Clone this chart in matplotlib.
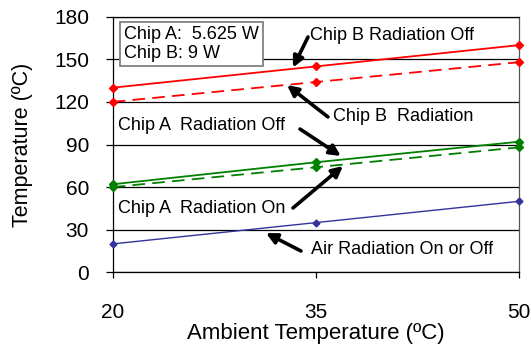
import matplotlib
matplotlib.use("Agg")
import matplotlib.pyplot as plt

plt.rcParams['font.family'] = ['Liberation Sans', 'DejaVu Sans']

# data
ambient = [20, 35, 50]
chip_b_off = [130, 145, 160]
chip_b_on = [120, 134, 148]
chip_a_off = [62, 77.5, 92]
chip_a_on = [60, 74, 88]
air = [20, 35, 50]
y_ticks = [0, 30, 60, 90, 120, 150, 180]

# (label, text pos, arrow tail, arrow head)
notes = [
    ("Chip B Radiation Off", (34.56, 167.0), (34.41, 165.7), (33.30, 144.2)),
    ("Chip B  Radiation", (36.25, 109.4), (35.88, 109.4), (32.86, 131.9)),
    ("Chip A  Radiation Off", (20.39, 103.7), (33.82, 100.9), (36.83, 81.9)),
    ("Chip A  Radiation On", (20.39, 44.6), (33.30, 45.3), (36.99, 74.9)),
    ("Air Radiation On or Off", (34.64, 16.0), (33.89, 15.0), (31.31, 27.7)),
]

fig = plt.figure(figsize=(5.31, 3.45), dpi=100)
ax = fig.add_axes([0.2122, 0.2107, 0.7658, 0.7409])

ax.plot(ambient, chip_b_off, color='#ff0000', lw=1.3, marker='D', ms=4, clip_on=False, zorder=3)
ax.plot(ambient, chip_b_on, color='#ff0000', lw=1.3, ls=(0, (7, 4)), marker='D', ms=4, clip_on=False, zorder=3)
ax.plot(ambient, chip_a_off, color='#008000', lw=1.3, marker='D', ms=4, clip_on=False, zorder=3)
ax.plot(ambient, chip_a_on, color='#008000', lw=1.3, ls=(0, (7, 4)), marker='D', ms=4, clip_on=False, zorder=3)
ax.plot(ambient, air, color='#333399', lw=1.0, marker='D', ms=3.5, clip_on=False, zorder=3)

ax.set_xlim(20, 50)
ax.set_ylim(0, 180)
ax.set_xticks(ambient)
ax.set_yticks(y_ticks)
ax.yaxis.grid(True, color='black', lw=0.9)
ax.set_axisbelow(True)
for s in ax.spines.values():
    s.set_color('black')
    s.set_linewidth(0.9)
ax.spines['right'].set_color('#555555')

ax.tick_params(axis='x', labelsize=15, length=4, pad=18, width=0.9)
ax.tick_params(axis='y', labelsize=15, length=5, pad=12, width=0.9)
ax.set_xlabel("Ambient Temperature (ºC)", fontsize=16, labelpad=0.5)
ax.set_ylabel("Temperature (ºC)", fontsize=15.5, labelpad=15)

for label, txt, tail, head in notes:
    ax.text(txt[0], txt[1], label, fontsize=13, va='center', ha='left', zorder=4)
    ax.annotate('', xy=head, xytext=tail,
                arrowprops=dict(arrowstyle='-|>', color='black', lw=2.6,
                                mutation_scale=16, shrinkA=0, shrinkB=0),
                zorder=4)

ax.text(0.027, 0.965, "Chip A:  5.625 W\nChip B: 9 W", transform=ax.transAxes,
        fontsize=13, va='top', ha='left', linespacing=1.2,
        bbox=dict(boxstyle='square,pad=0.22', fc='white', ec='#777777', lw=1.2),
        zorder=5)

fig.savefig("out.png", dpi=100)
